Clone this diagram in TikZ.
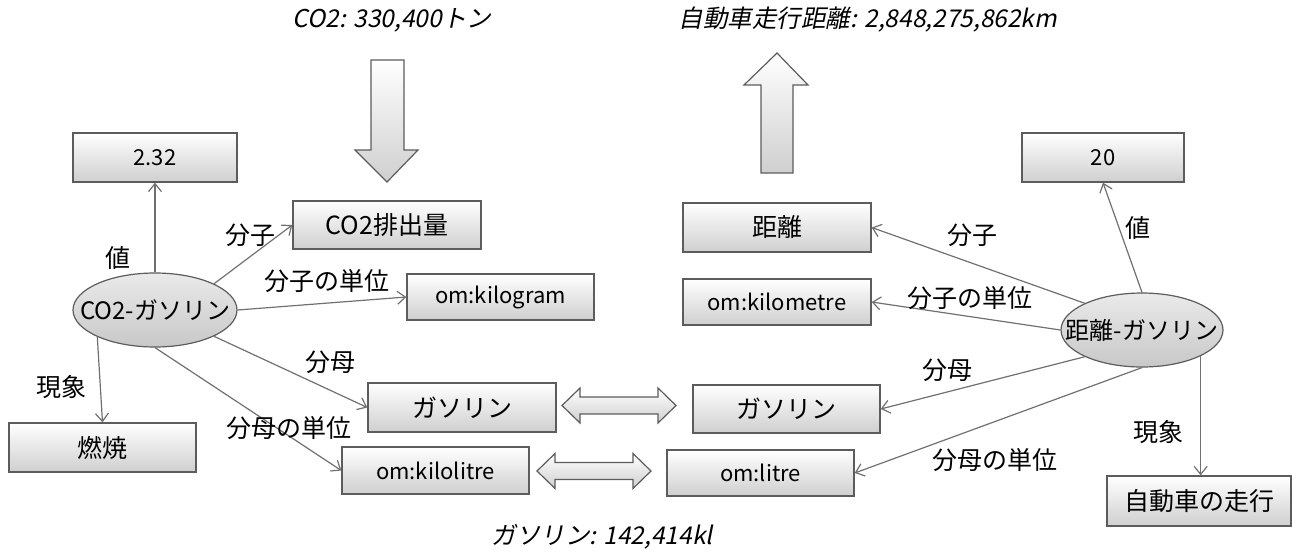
\documentclass[tikz,border=0pt]{standalone}
\usepackage{fontspec}
\setmainfont{Noto Sans CJK JP}
\newfontfamily\jpit[FakeSlant=0.2]{Noto Sans CJK JP}
\usetikzlibrary{arrows.meta,calc,shapes.geometric}
\definecolor{edgec}{HTML}{707070}
\definecolor{boxline}{HTML}{5C5C5C}
\definecolor{boxbot}{HTML}{CFCFCF}
\definecolor{ellbot}{HTML}{C8C8C8}
\definecolor{elltop}{HTML}{EAEAEA}
\tikzset{
  box/.style 2 args={rectangle, draw=boxline, line width=1.4pt, top color=white, bottom color=boxbot,
    minimum width=#1, minimum height=#2, inner sep=0pt, font=\fontsize{25}{28}\selectfont},
  latin/.style={font=\fontsize{22}{26}\selectfont},
  ell/.style 2 args={ellipse, draw=boxline, line width=1.2pt, top color=elltop, bottom color=ellbot,
    minimum width=#1, minimum height=#2, inner sep=0pt},
  elltext/.style={inner sep=0pt, font=\fontsize{24}{28}\selectfont},
  lbl/.style={inner sep=0pt, font=\fontsize{25}{28}\selectfont},
  ttl/.style={inner sep=0pt, font=\jpit\fontsize{24.5}{28}\selectfont},
  rel/.style={draw=edgec, line width=1.2pt, -{Straight Barb[length=8pt,width=13pt,line width=1.2pt]}},
  blk/.style={draw=boxline, line width=1.2pt, top color=white, bottom color=boxbot},
}
\begin{document}
\begin{tikzpicture}[x=1pt,y=-1pt]
\useasboundingbox (0,0) rectangle (1292,552);
% titles
\node[ttl] (t1) at (392,20) {CO2: 330,400トン};
\node[ttl] (t2) at (868,20) {自動車走行距離: 2,848,275,862km};
\node[ttl] (t3) at (602,537) {ガソリン: 142,414kl};
% block arrows
\path[blk] (371,60) -- (404,60) -- (404,150) -- (418,150) -- (387,182) -- (355,150) -- (371,150) -- cycle;
\path[blk] (777,53) -- (808,85) -- (793,85) -- (793,173) -- (761,173) -- (761,85) -- (744,85) -- cycle;
\path[blk] (562,405.5) -- (580,388) -- (580,397) -- (658,397) -- (658,388) -- (676,405.5) -- (658,423) -- (658,414) -- (580,414) -- (580,423) -- cycle;
\path[blk] (537,471) -- (555,453.5) -- (555,462.5) -- (633,462.5) -- (633,453.5) -- (651,471) -- (633,488.5) -- (633,479.5) -- (555,479.5) -- (555,488.5) -- cycle;
% left nodes
\node[box={164pt}{49pt}, latin] (v1) at (155,157.5) {2.32};
\node[box={188pt}{48pt}] (co2e) at (387,225) {CO2排出量};
\node[box={187pt}{46pt}, latin] (kg) at (500.5,297) {om:kilogram};
\node[box={187pt}{49pt}] (burn) at (102.5,447.5) {燃焼};
\node[box={188pt}{49pt}] (gasL) at (462,407.5) {ガソリン};
\node[box={187pt}{47pt}, latin] (kl) at (435.5,470.5) {om:kilolitre};
\node[ell={164pt}{74pt}] (e1) at (155,310) {};
\node[elltext] (e1t) at (e1.center) {CO2-ガソリン};
% right nodes
\node[box={187pt}{48pt}] (gasR) at (786.5,409) {ガソリン};
\node[box={187pt}{46pt}, latin] (litre) at (760.5,473) {om:litre};
\node[box={188pt}{49pt}] (dist) at (777,227.5) {距離};
\node[box={188pt}{46pt}, latin] (km) at (777,302) {om:kilometre};
\node[box={162pt}{49pt}, latin] (v20) at (1103,157.5) {20};
\node[box={184pt}{50pt}] (run) at (1199,501) {自動車の走行};
\node[ell={162pt}{74pt}] (e2) at (1142,330) {};
\node[elltext] (e2t) at (e2.center) {距離-ガソリン};
% left edges
\draw[rel] (e1.north) -- (v1.south);
\draw[rel] (e1.24) -- (co2e.west);
\draw[rel] (e1.east) -- (kg.west);
\draw[rel] (e1.-24) -- (gasL.west);
\draw[rel] (e1.south) -- (kl.west);
\draw[rel] (e1.-155) -- (burn.north);
% right edges
\draw[rel] (e2.north) -- (v20.south);
\draw[rel] (e2.155) -- (dist.east);
\draw[rel] (e2.west) -- (km.east);
\draw[rel] (e2.-155) -- (gasR.east);
\draw[rel] (e2.south) -- (litre.east);
\draw[rel] (e2.-24) -- (e2.-24 |- run.north);
% labels
\node[lbl] (l1) at (118,258) {値};
\node[lbl] (l2) at (250,235) {分子};
\node[lbl] (l3) at (327,281) {分子の単位};
\node[lbl] (l4) at (330,362) {分母};
\node[lbl] (l5) at (61,387) {現象};
\node[lbl] (l6) at (289,428) {分母の単位};
\node[lbl] (r1) at (972,235) {分子};
\node[lbl] (r2) at (970,298) {分子の単位};
\node[lbl] (r3) at (947,370) {分母};
\node[lbl] (r4) at (995,460) {分母の単位};
\node[lbl] (r5) at (1158,432) {現象};
\node[lbl] (r6) at (1138,228) {値};
\end{tikzpicture}
\end{document}
